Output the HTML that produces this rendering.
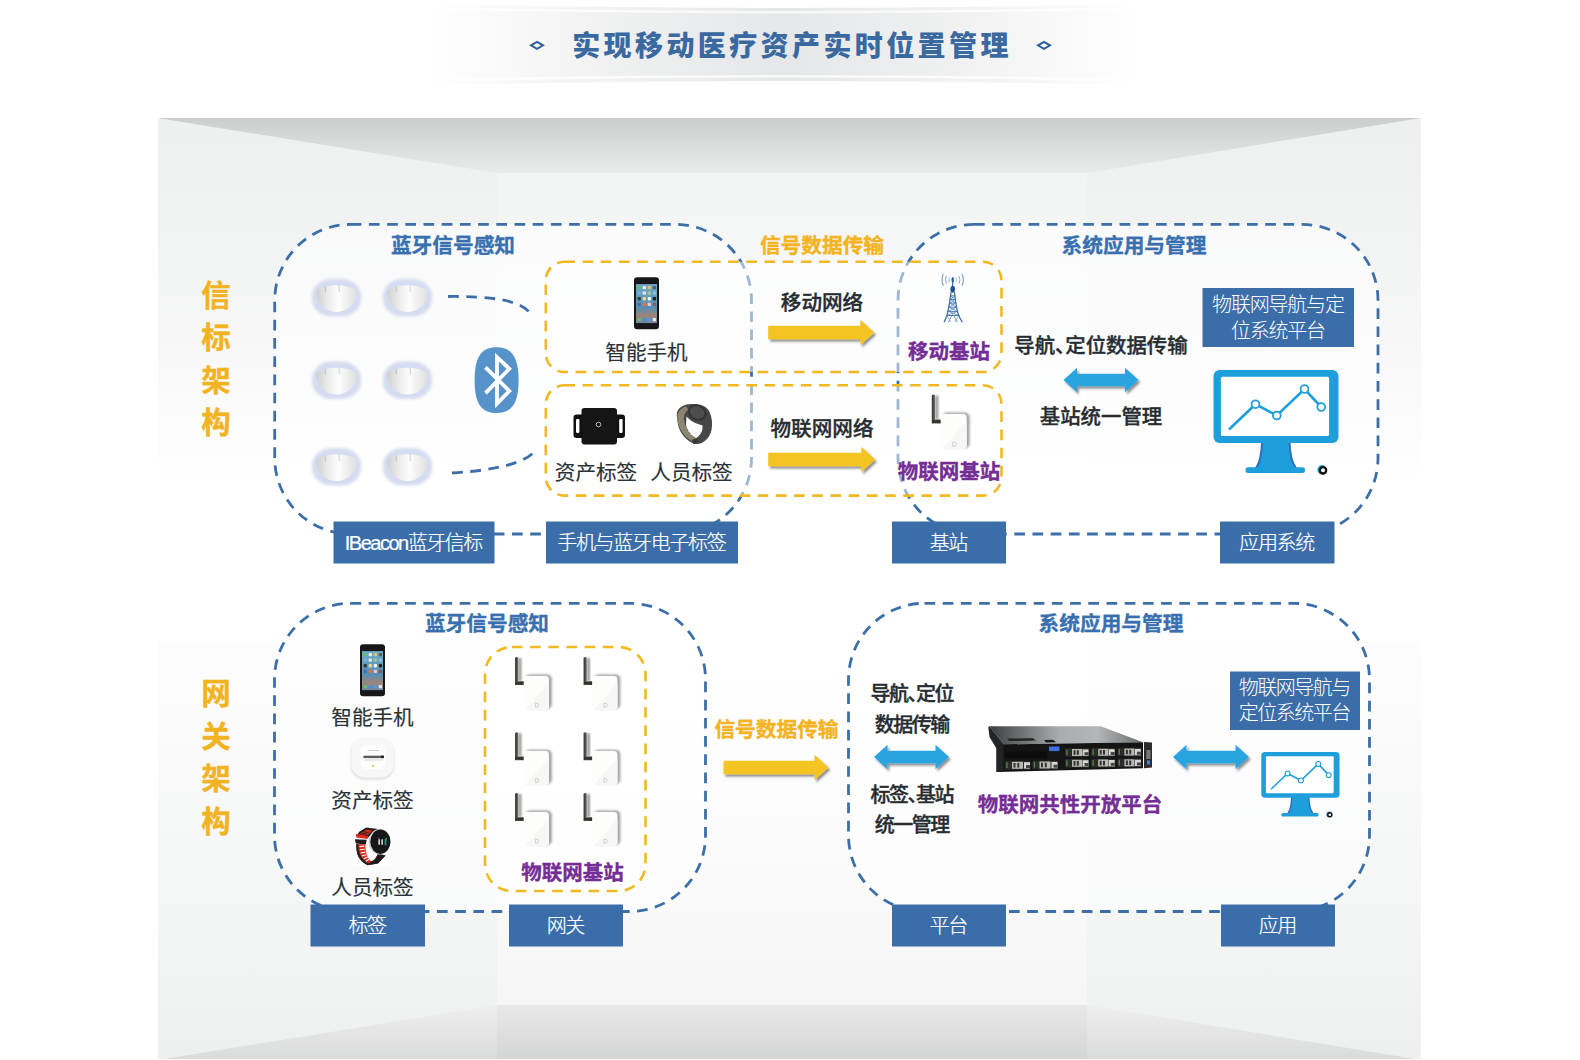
<!DOCTYPE html>
<html lang="zh-CN"><head><meta charset="utf-8"><title>实现移动医疗资产实时位置管理</title>
<style>
html,body{margin:0;padding:0;background:#fff;}
body{width:1580px;height:1060px;overflow:hidden;}
svg{display:block}
.t{font-family:"Liberation Sans","Noto Sans CJK SC",sans-serif;}
</style></head><body>
<svg width="1580" height="1060" viewBox="0 0 1580 1060">

<defs>
<linearGradient id="gCeil" x1="0" y1="0" x2="0" y2="1"><stop offset="0" stop-color="#cccdcd"/><stop offset="1" stop-color="#e9eaea"/></linearGradient>
<linearGradient id="gFloor" x1="0" y1="0" x2="0" y2="1"><stop offset="0" stop-color="#eeeeee"/><stop offset="1" stop-color="#dadbdb"/></linearGradient>
<linearGradient id="gSide" gradientUnits="userSpaceOnUse" x1="0" y1="118" x2="0" y2="1060">
 <stop offset="0" stop-color="#eeefef"/><stop offset="0.15" stop-color="#f2f3f3"/><stop offset="0.3" stop-color="#fafafa"/><stop offset="0.385" stop-color="#ffffff"/><stop offset="0.555" stop-color="#ffffff"/><stop offset="0.556" stop-color="#fdfdfd"/><stop offset="0.8" stop-color="#f5f6f6"/><stop offset="1" stop-color="#eeefef"/></linearGradient>
<linearGradient id="gBack" gradientUnits="userSpaceOnUse" x1="0" y1="173" x2="0" y2="1005">
 <stop offset="0" stop-color="#f2f3f3"/><stop offset="0.25" stop-color="#fbfcfc"/><stop offset="0.4" stop-color="#ffffff"/><stop offset="0.6" stop-color="#ffffff"/><stop offset="1" stop-color="#f6f6f6"/></linearGradient>
<linearGradient id="gBand" x1="0" y1="0" x2="1" y2="0"><stop offset="0" stop-color="#e9eaeb" stop-opacity="0"/><stop offset="0.3" stop-color="#e9eaeb" stop-opacity="0.8"/><stop offset="0.5" stop-color="#e6e7e8" stop-opacity="1"/><stop offset="0.7" stop-color="#e9eaeb" stop-opacity="0.8"/><stop offset="1" stop-color="#e9eaeb" stop-opacity="0"/></linearGradient>
<linearGradient id="gDome" x1="0" y1="0" x2="1" y2="0"><stop offset="0" stop-color="#cfcfcf"/><stop offset="0.3" stop-color="#ececec"/><stop offset="0.55" stop-color="#fdfdfd"/><stop offset="1" stop-color="#dedede"/></linearGradient>
<filter id="blurH" x="-30%" y="-30%" width="160%" height="160%"><feGaussianBlur stdDeviation="1.6"/></filter>
<filter id="blur3" x="-30%" y="-30%" width="160%" height="160%"><feGaussianBlur stdDeviation="2.2"/></filter>
<filter id="blur1" x="-30%" y="-30%" width="160%" height="160%"><feGaussianBlur stdDeviation="1"/></filter>
<filter id="shadow" x="-10%" y="-30%" width="120%" height="180%"><feDropShadow dx="1.8" dy="2.3" stdDeviation="1.1" flood-color="#000" flood-opacity="0.45"/></filter>
<linearGradient id="gScreen" x1="0" y1="0" x2="0" y2="1"><stop offset="0" stop-color="#6faac8"/><stop offset="0.6" stop-color="#5590b4"/><stop offset="0.82" stop-color="#a08478"/><stop offset="1" stop-color="#6f86a6"/></linearGradient>
<linearGradient id="gAnt" x1="0" y1="0" x2="1" y2="0"><stop offset="0" stop-color="#2f2f2b"/><stop offset="0.35" stop-color="#6e6e66"/><stop offset="0.7" stop-color="#4a4a44"/><stop offset="1" stop-color="#33332e"/></linearGradient>
<linearGradient id="gSrvTop" x1="0" y1="0" x2="1" y2="0"><stop offset="0" stop-color="#3c3e40"/><stop offset="0.45" stop-color="#a9abad"/><stop offset="0.7" stop-color="#b4b6b8"/><stop offset="1" stop-color="#6a6c6e"/></linearGradient>
</defs>

<rect x="158" y="118" width="339" height="942" fill="url(#gSide)"/>
<rect x="1087" y="118" width="334" height="942" fill="url(#gSide)"/>
<rect x="497" y="118" width="590" height="942" fill="url(#gBack)"/>
<polygon points="158,118 1421,118 1087,173 497,173" fill="url(#gCeil)"/>
<polygon points="158,1060 497,1005 1087,1005 1421,1060" fill="url(#gFloor)"/>
<rect x="497" y="1005" width="590" height="55" fill="#000" opacity="0.025"/>
<rect x="0" y="1059" width="1580" height="1" fill="#fff"/>
<path d="M430,4 Q790,12 1135,4 L1135,85 Q790,77 430,85 Z" fill="url(#gBand)"/>
<path d="M440,8.5 Q790,16 1125,8.5" fill="none" stroke="#fff" stroke-width="2.6" opacity="0.75"/><path d="M440,80 Q790,72.5 1125,80" fill="none" stroke="#fff" stroke-width="2.6" opacity="0.75"/>
<text x="792" y="55.5" font-size="28" font-weight="900" fill="#3a699f" text-anchor="middle" letter-spacing="3.4" class="t">实现移动医疗资产实时位置管理</text>
<polygon points="531,45.3 537,41.8 543,45.3 537,48.8" fill="none" stroke="#2f5f9a" stroke-width="2"/>
<polygon points="1038,45.3 1044,41.8 1050,45.3 1044,48.8" fill="none" stroke="#2f5f9a" stroke-width="2"/>
<rect x="274.7" y="224.4" width="476.8" height="309.6" rx="76" ry="76" fill="rgba(255,255,255,0.55)" stroke="#3c6fa9" stroke-width="2.8" stroke-dasharray="10.7 7.5" />
<rect x="898" y="224.4" width="480" height="309.6" rx="76" ry="76" fill="rgba(255,255,255,0.55)" stroke="#3c6fa9" stroke-width="2.8" stroke-dasharray="10.7 7.5" />
<rect x="274.5" y="603.3" width="431.0" height="308.20000000000005" rx="76" ry="76" fill="rgba(255,255,255,0.55)" stroke="#3c6fa9" stroke-width="2.8" stroke-dasharray="10.7 7.5" />
<rect x="848.5" y="603.3" width="521.0" height="308.20000000000005" rx="76" ry="76" fill="rgba(255,255,255,0.55)" stroke="#3c6fa9" stroke-width="2.8" stroke-dasharray="10.7 7.5" />
<rect x="545.8" y="261.8" width="455.70000000000005" height="110.19999999999999" rx="18.5" ry="18.5" fill="rgba(255,255,255,0.5)" stroke="#f2b822" stroke-width="2.6" stroke-dasharray="10.7 7.5" />
<rect x="545.8" y="385.3" width="455.70000000000005" height="110.30000000000001" rx="18.5" ry="18.5" fill="rgba(255,255,255,0.5)" stroke="#f2b822" stroke-width="2.6" stroke-dasharray="10.7 7.5" />
<rect x="485" y="647" width="160.5" height="244" rx="26.8" ry="26.8" fill="rgba(255,255,255,0.5)" stroke="#f2b822" stroke-width="2.6" stroke-dasharray="10.7 7.5" />
<path d="M448,296.5 C490,296 520,300 530,313" fill="none" stroke="#3c6fa9" stroke-width="2.8" stroke-dasharray="10.7 7.5"/>
<path d="M452,473 C500,470 525,462 534,452" fill="none" stroke="#3c6fa9" stroke-width="2.8" stroke-dasharray="10.7 7.5"/>
<rect x="333.5" y="521.5" width="161.0" height="42.0" fill="#3b6ea8"/>
<text x="413.25" y="550.3" font-size="20" font-weight="300" fill="#fff" stroke="#fff" stroke-width="0.2" text-anchor="middle" letter-spacing="-1.5" class="t">IBeacon蓝牙信标</text>
<rect x="546" y="521.5" width="192" height="42.0" fill="#3b6ea8"/>
<text x="641.35" y="550.3" font-size="20" font-weight="300" fill="#fff" stroke="#fff" stroke-width="0.2" text-anchor="middle" letter-spacing="-1.3" class="t">手机与蓝牙电子标签</text>
<rect x="892" y="521.5" width="114" height="42.0" fill="#3b6ea8"/>
<text x="948.35" y="550.3" font-size="20" font-weight="300" fill="#fff" stroke="#fff" stroke-width="0.2" text-anchor="middle" letter-spacing="-1.3" class="t">基站</text>
<rect x="1220" y="521.5" width="114.5" height="42.0" fill="#3b6ea8"/>
<text x="1276.6" y="550.3" font-size="20" font-weight="300" fill="#fff" stroke="#fff" stroke-width="0.2" text-anchor="middle" letter-spacing="-1.3" class="t">应用系统</text>
<rect x="310.5" y="904.5" width="114.5" height="42.0" fill="#3b6ea8"/>
<text x="367.1" y="933.3" font-size="20" font-weight="300" fill="#fff" stroke="#fff" stroke-width="0.2" text-anchor="middle" letter-spacing="-1.3" class="t">标签</text>
<rect x="509" y="904.5" width="114" height="42.0" fill="#3b6ea8"/>
<text x="565.35" y="933.3" font-size="20" font-weight="300" fill="#fff" stroke="#fff" stroke-width="0.2" text-anchor="middle" letter-spacing="-1.3" class="t">网关</text>
<rect x="892" y="904.5" width="114" height="42.0" fill="#3b6ea8"/>
<text x="948.35" y="933.3" font-size="20" font-weight="300" fill="#fff" stroke="#fff" stroke-width="0.2" text-anchor="middle" letter-spacing="-1.3" class="t">平台</text>
<rect x="1221" y="904.5" width="114" height="42.0" fill="#3b6ea8"/>
<text x="1277.35" y="933.3" font-size="20" font-weight="300" fill="#fff" stroke="#fff" stroke-width="0.2" text-anchor="middle" letter-spacing="-1.3" class="t">应用</text>
<text x="216.0" y="305.6" font-size="29.5" font-weight="700" fill="#f2b323" stroke="#f2b323" stroke-width="0.35" text-anchor="middle" letter-spacing="0" class="t">信</text>
<text x="216.0" y="348.1" font-size="29.5" font-weight="700" fill="#f2b323" stroke="#f2b323" stroke-width="0.35" text-anchor="middle" letter-spacing="0" class="t">标</text>
<text x="216.0" y="390.6" font-size="29.5" font-weight="700" fill="#f2b323" stroke="#f2b323" stroke-width="0.35" text-anchor="middle" letter-spacing="0" class="t">架</text>
<text x="216.0" y="433.1" font-size="29.5" font-weight="700" fill="#f2b323" stroke="#f2b323" stroke-width="0.35" text-anchor="middle" letter-spacing="0" class="t">构</text>
<text x="216.0" y="704.3" font-size="29.5" font-weight="700" fill="#f2b323" stroke="#f2b323" stroke-width="0.35" text-anchor="middle" letter-spacing="0" class="t">网</text>
<text x="216.0" y="746.8" font-size="29.5" font-weight="700" fill="#f2b323" stroke="#f2b323" stroke-width="0.35" text-anchor="middle" letter-spacing="0" class="t">关</text>
<text x="216.0" y="789.3" font-size="29.5" font-weight="700" fill="#f2b323" stroke="#f2b323" stroke-width="0.35" text-anchor="middle" letter-spacing="0" class="t">架</text>
<text x="216.0" y="831.8" font-size="29.5" font-weight="700" fill="#f2b323" stroke="#f2b323" stroke-width="0.35" text-anchor="middle" letter-spacing="0" class="t">构</text>
<text x="453.0" y="252.5" font-size="20.7" font-weight="700" fill="#3870af" stroke="#3870af" stroke-width="0.35" text-anchor="middle" letter-spacing="0" class="t">蓝牙信号感知</text>
<text x="822.0" y="252.5" font-size="20.7" font-weight="700" fill="#f3b323" stroke="#f3b323" stroke-width="0.35" text-anchor="middle" letter-spacing="0" class="t">信号数据传输</text>
<text x="1134.0" y="252.5" font-size="20.7" font-weight="700" fill="#3870af" stroke="#3870af" stroke-width="0.35" text-anchor="middle" letter-spacing="0" class="t">系统应用与管理</text>
<text x="487.0" y="631.0" font-size="20.7" font-weight="700" fill="#3870af" stroke="#3870af" stroke-width="0.35" text-anchor="middle" letter-spacing="0" class="t">蓝牙信号感知</text>
<text x="1111.0" y="631.3" font-size="20.7" font-weight="700" fill="#3870af" stroke="#3870af" stroke-width="0.35" text-anchor="middle" letter-spacing="0" class="t">系统应用与管理</text>
<text x="776.5" y="736.8" font-size="20.7" font-weight="700" fill="#f3b323" stroke="#f3b323" stroke-width="0.35" text-anchor="middle" letter-spacing="0" class="t">信号数据传输</text>
<text x="646.5" y="359.7" font-size="20.6" font-weight="400" fill="#2a3136" stroke="#2a3136" stroke-width="0.15" text-anchor="middle" letter-spacing="0" class="t">智能手机</text>
<text x="596.0" y="479.8" font-size="20.6" font-weight="400" fill="#2a3136" stroke="#2a3136" stroke-width="0.15" text-anchor="middle" letter-spacing="0" class="t">资产标签</text>
<text x="691.5" y="479.8" font-size="20.6" font-weight="400" fill="#2a3136" stroke="#2a3136" stroke-width="0.15" text-anchor="middle" letter-spacing="0" class="t">人员标签</text>
<text x="822.0" y="309.9" font-size="20.6" font-weight="500" fill="#262c30" stroke="#262c30" stroke-width="0.35" text-anchor="middle" letter-spacing="0" class="t">移动网络</text>
<text x="822.0" y="435.9" font-size="20.6" font-weight="500" fill="#262c30" stroke="#262c30" stroke-width="0.35" text-anchor="middle" letter-spacing="0" class="t">物联网网络</text>
<text x="949.0" y="359.4" font-size="20.5" font-weight="700" fill="#752d96" stroke="#752d96" stroke-width="0.35" text-anchor="middle" letter-spacing="0" class="t">移动基站</text>
<text x="949.0" y="478.9" font-size="20.5" font-weight="700" fill="#752d96" stroke="#752d96" stroke-width="0.35" text-anchor="middle" letter-spacing="0" class="t">物联网基站</text>
<text x="1101.0" y="353.3" font-size="20.4" font-weight="500" fill="#262c30" stroke="#262c30" stroke-width="0.35" text-anchor="middle" letter-spacing="0" class="t">导航<tspan style="font-feature-settings:'halt'">、</tspan>定位数据传输</text>
<text x="1101.0" y="423.8" font-size="20.4" font-weight="500" fill="#262c30" stroke="#262c30" stroke-width="0.35" text-anchor="middle" letter-spacing="0" class="t">基站统一管理</text>
<text x="372.5" y="724.7" font-size="20.6" font-weight="400" fill="#2a3136" stroke="#2a3136" stroke-width="0.15" text-anchor="middle" letter-spacing="0" class="t">智能手机</text>
<text x="372.5" y="807.7" font-size="20.6" font-weight="400" fill="#2a3136" stroke="#2a3136" stroke-width="0.15" text-anchor="middle" letter-spacing="0" class="t">资产标签</text>
<text x="372.5" y="894.7" font-size="20.6" font-weight="400" fill="#2a3136" stroke="#2a3136" stroke-width="0.15" text-anchor="middle" letter-spacing="0" class="t">人员标签</text>
<text x="572.5" y="880.4" font-size="20.5" font-weight="700" fill="#752d96" stroke="#752d96" stroke-width="0.35" text-anchor="middle" letter-spacing="0" class="t">物联网基站</text>
<text x="911.75" y="701.2" font-size="20" font-weight="500" fill="#262c30" stroke="#262c30" stroke-width="0.35" text-anchor="middle" letter-spacing="-1.5" class="t">导航<tspan style="font-feature-settings:'halt'">、</tspan>定位</text>
<text x="911.75" y="732.2" font-size="20" font-weight="500" fill="#262c30" stroke="#262c30" stroke-width="0.35" text-anchor="middle" letter-spacing="-1.5" class="t">数据传输</text>
<text x="911.75" y="801.7" font-size="20" font-weight="500" fill="#262c30" stroke="#262c30" stroke-width="0.35" text-anchor="middle" letter-spacing="-1.5" class="t">标签<tspan style="font-feature-settings:'halt'">、</tspan>基站</text>
<text x="911.75" y="831.7" font-size="20" font-weight="500" fill="#262c30" stroke="#262c30" stroke-width="0.35" text-anchor="middle" letter-spacing="-1.5" class="t">统一管理</text>
<text x="1070.0" y="812.4" font-size="20.5" font-weight="700" fill="#752d96" stroke="#752d96" stroke-width="0.35" text-anchor="middle" letter-spacing="0" class="t">物联网共性开放平台</text>
<rect x="1202.5" y="288" width="151.5" height="59" fill="#3b6ea8"/>
<text x="1277.9" y="312.2" font-size="20" font-weight="300" fill="#fff" text-anchor="middle" letter-spacing="-1.2" class="t">物联网导航与定</text>
<text x="1277.9" y="337.7" font-size="20" font-weight="300" fill="#fff" text-anchor="middle" letter-spacing="-1.2" class="t">位系统平台</text>
<rect x="1230" y="671.5" width="130" height="58.5" fill="#3b6ea8"/>
<text x="1294.25" y="695.2" font-size="20" font-weight="300" fill="#fff" text-anchor="middle" letter-spacing="-1.5" class="t">物联网导航与</text>
<text x="1294.25" y="720.2" font-size="20" font-weight="300" fill="#fff" text-anchor="middle" letter-spacing="-1.5" class="t">定位系统平台</text>
<polygon points="768.2,325.85 860.3,325.85 860.3,319.85 874.3,332.6 860.3,345.35 860.3,339.35 768.2,339.35" fill="#f4c422" filter="url(#shadow)"/>
<polygon points="768.2,452.85 861.3,452.85 861.3,446.85 875.3,459.6 861.3,472.35 861.3,466.35 768.2,466.35" fill="#f4c422" filter="url(#shadow)"/>
<polygon points="723.5,760.75 814.5,760.75 814.5,754.75 828.5,767.5 814.5,780.25 814.5,774.25 723.5,774.25" fill="#f4c422" filter="url(#shadow)"/>
<polygon points="1063.5,380 1077.0,367.75 1077.0,373.75 1125.0,373.75 1125.0,367.75 1138.5,380 1125.0,392.25 1125.0,386.25 1077.0,386.25 1077.0,392.25" fill="#2ba4df" filter="url(#shadow)"/>
<polygon points="874,757 887.5,744.75 887.5,750.75 935.5,750.75 935.5,744.75 949,757 935.5,769.25 935.5,763.25 887.5,763.25 887.5,769.25" fill="#2ba4df" filter="url(#shadow)"/>
<polygon points="1173,757 1186.5,744.75 1186.5,750.75 1235.5,750.75 1235.5,744.75 1249,757 1235.5,769.25 1235.5,763.25 1186.5,763.25 1186.5,769.25" fill="#2ba4df" filter="url(#shadow)"/>
<rect x="312.0" y="279" width="49" height="37.5" rx="20" ry="17" fill="#d5dbf0" filter="url(#blurH)"/>
<path d="M316.0,292 C320.0,283.0 353.0,283.0 357.0,292 C356.0,305 346.5,312 336.5,312 C326.5,312 317.0,305 316.0,292 Z" fill="url(#gDome)"/>
<path d="M325.0,286.5 L325.5,292" stroke="#b8b8b8" stroke-width="0.8" fill="none"/>
<path d="M339.0,285 L339.3,292" stroke="#c4c4c4" stroke-width="0.8" fill="none"/>
<rect x="383.0" y="279" width="49" height="37.5" rx="20" ry="17" fill="#d5dbf0" filter="url(#blurH)"/>
<path d="M387.0,292 C391.0,283.0 424.0,283.0 428.0,292 C427.0,305 417.5,312 407.5,312 C397.5,312 388.0,305 387.0,292 Z" fill="url(#gDome)"/>
<path d="M396.0,286.5 L396.5,292" stroke="#b8b8b8" stroke-width="0.8" fill="none"/>
<path d="M410.0,285 L410.3,292" stroke="#c4c4c4" stroke-width="0.8" fill="none"/>
<rect x="312.0" y="361.5" width="49" height="37.5" rx="20" ry="17" fill="#d5dbf0" filter="url(#blurH)"/>
<path d="M316.0,374.5 C320.0,365.5 353.0,365.5 357.0,374.5 C356.0,387.5 346.5,394.5 336.5,394.5 C326.5,394.5 317.0,387.5 316.0,374.5 Z" fill="url(#gDome)"/>
<path d="M325.0,369.0 L325.5,374.5" stroke="#b8b8b8" stroke-width="0.8" fill="none"/>
<path d="M339.0,367.5 L339.3,374.5" stroke="#c4c4c4" stroke-width="0.8" fill="none"/>
<rect x="383.0" y="361.5" width="49" height="37.5" rx="20" ry="17" fill="#d5dbf0" filter="url(#blurH)"/>
<path d="M387.0,374.5 C391.0,365.5 424.0,365.5 428.0,374.5 C427.0,387.5 417.5,394.5 407.5,394.5 C397.5,394.5 388.0,387.5 387.0,374.5 Z" fill="url(#gDome)"/>
<path d="M396.0,369.0 L396.5,374.5" stroke="#b8b8b8" stroke-width="0.8" fill="none"/>
<path d="M410.0,367.5 L410.3,374.5" stroke="#c4c4c4" stroke-width="0.8" fill="none"/>
<rect x="312.0" y="448" width="49" height="37.5" rx="20" ry="17" fill="#d5dbf0" filter="url(#blurH)"/>
<path d="M316.0,461 C320.0,452.0 353.0,452.0 357.0,461 C356.0,474 346.5,481 336.5,481 C326.5,481 317.0,474 316.0,461 Z" fill="url(#gDome)"/>
<path d="M325.0,455.5 L325.5,461" stroke="#b8b8b8" stroke-width="0.8" fill="none"/>
<path d="M339.0,454 L339.3,461" stroke="#c4c4c4" stroke-width="0.8" fill="none"/>
<rect x="383.0" y="448" width="49" height="37.5" rx="20" ry="17" fill="#d5dbf0" filter="url(#blurH)"/>
<path d="M387.0,461 C391.0,452.0 424.0,452.0 428.0,461 C427.0,474 417.5,481 407.5,481 C397.5,481 388.0,474 387.0,461 Z" fill="url(#gDome)"/>
<path d="M396.0,455.5 L396.5,461" stroke="#b8b8b8" stroke-width="0.8" fill="none"/>
<path d="M410.0,454 L410.3,461" stroke="#c4c4c4" stroke-width="0.8" fill="none"/>
<path d="M496.6,347.3 C511,347.3 518.6,356 518.6,380.2 C518.6,404.5 511,413 496.6,413 C482,413 474.6,404.5 474.6,380.2 C474.6,356 482,347.3 496.6,347.3 Z" fill="#5693ca"/>
<path d="M485.5,367.3 L509.3,391 L497,403.6 L497,357.2 L509.3,368.8 L485.5,393.2" fill="none" stroke="#fff" stroke-width="3.8" stroke-linejoin="miter"/>
<rect x="634" y="277.3" width="25" height="52" rx="3.2" fill="#17171a"/>
<rect x="636" y="284.1" width="21" height="39" fill="url(#gScreen)"/>
<rect x="637.60" y="285.90" width="3.3" height="3.3" rx="0.8" fill="#5ec26a"/>
<rect x="642.65" y="285.90" width="3.3" height="3.3" rx="0.8" fill="#e9e9ee"/>
<rect x="647.70" y="285.90" width="3.3" height="3.3" rx="0.8" fill="#d9c27a"/>
<rect x="652.75" y="285.90" width="3.3" height="3.3" rx="0.8" fill="#55606a"/>
<rect x="637.60" y="291.50" width="3.3" height="3.3" rx="0.8" fill="#6fb3e8"/>
<rect x="642.65" y="291.50" width="3.3" height="3.3" rx="0.8" fill="#e6e6e6"/>
<rect x="647.70" y="291.50" width="3.3" height="3.3" rx="0.8" fill="#9fc9a0"/>
<rect x="652.75" y="291.50" width="3.3" height="3.3" rx="0.8" fill="#7cc3e0"/>
<rect x="637.60" y="297.10" width="3.3" height="3.3" rx="0.8" fill="#3a3a3a"/>
<rect x="642.65" y="297.10" width="3.3" height="3.3" rx="0.8" fill="#f0d98a"/>
<rect x="647.70" y="297.10" width="3.3" height="3.3" rx="0.8" fill="#f4f4f4"/>
<rect x="652.75" y="297.10" width="3.3" height="3.3" rx="0.8" fill="#222"/>
<rect x="637.60" y="302.70" width="3.3" height="3.3" rx="0.8" fill="#4a6fb0"/>
<rect x="642.65" y="302.70" width="3.3" height="3.3" rx="0.8" fill="#e8742c"/>
<rect x="647.70" y="302.70" width="3.3" height="3.3" rx="0.8" fill="#f2c4cc"/>
<rect x="652.75" y="302.70" width="3.3" height="3.3" rx="0.8" fill="#8a5a5a"/>
<rect x="637.60" y="317.90" width="3.3" height="3.3" rx="0.8" fill="#5ec26a"/>
<rect x="642.65" y="317.90" width="3.3" height="3.3" rx="0.8" fill="#4a90d9"/>
<rect x="647.70" y="317.90" width="3.3" height="3.3" rx="0.8" fill="#4a9de0"/>
<rect x="652.75" y="317.90" width="3.3" height="3.3" rx="0.8" fill="#f0e6ea"/>
<rect x="360" y="644.3" width="25" height="52" rx="3.2" fill="#17171a"/>
<rect x="362" y="651.0999999999999" width="21" height="39" fill="url(#gScreen)"/>
<rect x="363.60" y="652.90" width="3.3" height="3.3" rx="0.8" fill="#5ec26a"/>
<rect x="368.65" y="652.90" width="3.3" height="3.3" rx="0.8" fill="#e9e9ee"/>
<rect x="373.70" y="652.90" width="3.3" height="3.3" rx="0.8" fill="#d9c27a"/>
<rect x="378.75" y="652.90" width="3.3" height="3.3" rx="0.8" fill="#55606a"/>
<rect x="363.60" y="658.50" width="3.3" height="3.3" rx="0.8" fill="#6fb3e8"/>
<rect x="368.65" y="658.50" width="3.3" height="3.3" rx="0.8" fill="#e6e6e6"/>
<rect x="373.70" y="658.50" width="3.3" height="3.3" rx="0.8" fill="#9fc9a0"/>
<rect x="378.75" y="658.50" width="3.3" height="3.3" rx="0.8" fill="#7cc3e0"/>
<rect x="363.60" y="664.10" width="3.3" height="3.3" rx="0.8" fill="#3a3a3a"/>
<rect x="368.65" y="664.10" width="3.3" height="3.3" rx="0.8" fill="#f0d98a"/>
<rect x="373.70" y="664.10" width="3.3" height="3.3" rx="0.8" fill="#f4f4f4"/>
<rect x="378.75" y="664.10" width="3.3" height="3.3" rx="0.8" fill="#222"/>
<rect x="363.60" y="669.70" width="3.3" height="3.3" rx="0.8" fill="#4a6fb0"/>
<rect x="368.65" y="669.70" width="3.3" height="3.3" rx="0.8" fill="#e8742c"/>
<rect x="373.70" y="669.70" width="3.3" height="3.3" rx="0.8" fill="#f2c4cc"/>
<rect x="378.75" y="669.70" width="3.3" height="3.3" rx="0.8" fill="#8a5a5a"/>
<rect x="363.60" y="684.90" width="3.3" height="3.3" rx="0.8" fill="#5ec26a"/>
<rect x="368.65" y="684.90" width="3.3" height="3.3" rx="0.8" fill="#4a90d9"/>
<rect x="373.70" y="684.90" width="3.3" height="3.3" rx="0.8" fill="#4a9de0"/>
<rect x="378.75" y="684.90" width="3.3" height="3.3" rx="0.8" fill="#f0e6ea"/>
<g><rect x="573.5" y="414.5" width="51.5" height="23.5" rx="3" fill="#111"/><rect x="581.5" y="408" width="35.5" height="36.5" rx="3" fill="#151515"/><rect x="576" y="419" width="3.4" height="14" rx="1.2" fill="#fff"/><rect x="619.2" y="419" width="3.4" height="14" rx="1.2" fill="#fff"/><circle cx="598.5" cy="424.5" r="2.3" fill="none" stroke="#ddd" stroke-width="0.8"/></g>
<g><path d="M676.8,416 C676,408 684,403.6 692.4,404 C700,403.6 707,406 709.6,412 C712.2,418 712.6,424 711.5,430 C710,438 703,445 695,444 C688,442 680,434 678,425 Z" fill="#474747"/><path d="M686.5,416.5 C690,421 697,424.2 702.3,425.2 C703.3,430 701,435 696,438.3 C691.5,436 687.5,431 686,425 Z" fill="#fdfdfd"/><path d="M677.3,416 C678,411.5 681.5,408 686,406.3 L688.3,410 C684.5,412 683.3,416 684.2,421 C685.5,428 690,434.5 696.3,438.3 L694.3,442.3 C686,439 679,430 677.5,421 Z" fill="#8d856f"/><path d="M686.6,428 l1.5,-0.5 M688.3,431.5 l1.5,-0.6 M690.4,434.6 l1.5,-0.8" stroke="#e8e8e8" stroke-width="1" fill="none"/><rect x="692.5" y="438.8" width="6" height="4.6" transform="rotate(-18 695.5 441)" fill="#3a3a3a"/><ellipse cx="697.4" cy="412.8" rx="9.6" ry="7.7" transform="rotate(24 697.4 412.8)" fill="#353535"/><ellipse cx="697.2" cy="412.4" rx="7.6" ry="5.9" transform="rotate(24 697.2 412.4)" fill="#4d4d4d"/></g>
<g stroke="#3a6ca6" fill="none" stroke-linecap="round"><path d="M950.9,292.6 C950.3,299 949.3,306 947.6,312.9 C946.7,316.5 945.5,319.5 944.3,321.8" stroke-width="1.25"/><path d="M954.5,292.6 C955.1,299 956.1,306 957.8,312.9 C958.7,316.5 960.6,319.5 962.2,321.8" stroke-width="1.25"/><path d="M948.8,321.8 C950,318.5 951.3,316 952.7,314.6 C954.1,316 955.6,318.5 956.9,321.8" stroke-width="0.9" stroke="#5f88b8"/><path d="M950.6,295.8 L954.8,295.8" stroke-width="0.9"/><path d="M950.2,299.4 L955.2,299.4" stroke-width="0.9"/><path d="M949.7,303.1 L955.8,303.1" stroke-width="0.9"/><path d="M949,307.2 L956.5,307.2" stroke-width="0.9"/><path d="M948,311.4 L957.5,311.4" stroke-width="0.9"/><path d="M946.8,315.5 L959,315.5" stroke-width="0.9"/><path d="M950.6,295.8 L955.2,299.4 M954.8,295.8 L950.2,299.4" stroke-width="0.7" stroke="#4a78ae"/><path d="M950.2,299.4 L955.8,303.1 M955.2,299.4 L949.7,303.1" stroke-width="0.7" stroke="#4a78ae"/><path d="M949.7,303.1 L956.5,307.2 M955.8,303.1 L949,307.2" stroke-width="0.7" stroke="#4a78ae"/><path d="M949,307.2 L957.5,311.4 M956.5,307.2 L948,311.4" stroke-width="0.7" stroke="#4a78ae"/><path d="M948,311.4 L959,315.5 M957.5,311.4 L946.8,315.5" stroke-width="0.7" stroke="#4a78ae"/><path d="M946.8,315.5 L950.5,321.5 M959,315.5 L955.2,321.5" stroke-width="0.7" stroke="#6a90bc"/><ellipse cx="952.7" cy="279.8" rx="1.25" ry="2.8" fill="#2a5fa3" stroke="none"/><path d="M952.7,282 L952.7,286.5" stroke-width="1.1" stroke="#2a5fa3"/><ellipse cx="952.7" cy="289.3" rx="2.3" ry="3.5" fill="#1f5094" stroke="none"/><path d="M949.3,277.5 Q948.3,279.8 949.3,282.1" stroke-width="0.9" opacity="0.5"/><path d="M946.2,276.2 Q944.6,279.8 946.2,283.4" stroke-width="1" opacity="0.6"/><path d="M943.2,274.4 Q940.9,279.8 943.2,285.2" stroke-width="1.1" opacity="0.7"/><path d="M956.1,277.5 Q957.1,279.8 956.1,282.1" stroke-width="0.9" opacity="0.4"/><path d="M959.2,276.2 Q960.8,279.8 959.2,283.4" stroke-width="1" opacity="0.55"/><path d="M962.2,274.4 Q964.5,279.8 962.2,285.2" stroke-width="1.1" opacity="0.7"/></g>
<g transform="translate(931.3,393.8) scale(1.0)"><rect x="4" y="1.8" width="3" height="24" fill="#8a8787" opacity="0.9" filter="url(#blur1)"/><rect x="11.4" y="18.8" width="27" height="35.4" rx="4.5" fill="#8a8686" opacity="0.75" filter="url(#blur1)"/><path d="M0.5,1.6 Q2.1,-0.2 3.7,1.6 L3.7,25.8 L9.6,25.8 L9.6,29.7 L0.5,29.7 Z" fill="url(#gAnt)"/><rect x="1.0" y="26.4" width="8.4" height="2.6" fill="#33332e"/><rect x="9.4" y="20.2" width="26" height="34.9" rx="3.6" fill="#fdfdfc"/><path d="M35.4,27.5 L35.4,51.5 Q35.4,55.1 31.8,55.1 L11,55.1 Z" fill="#f7f7f6"/><path d="M21.4,48.4 L21.4,52.4 L22.8,52.4 Q24.8,52.4 24.8,50.4 Q24.8,48.4 22.8,48.4 Z" fill="none" stroke="#c4c4c8" stroke-width="0.8"/></g>
<g transform="translate(514.6,656.3) scale(0.97)"><rect x="4" y="1.8" width="3" height="24" fill="#8a8787" opacity="0.9" filter="url(#blur1)"/><rect x="11.4" y="18.8" width="27" height="35.4" rx="4.5" fill="#8a8686" opacity="0.75" filter="url(#blur1)"/><path d="M0.5,1.6 Q2.1,-0.2 3.7,1.6 L3.7,25.8 L9.6,25.8 L9.6,29.7 L0.5,29.7 Z" fill="url(#gAnt)"/><rect x="1.0" y="26.4" width="8.4" height="2.6" fill="#33332e"/><rect x="9.4" y="20.2" width="26" height="34.9" rx="3.6" fill="#fdfdfc"/><path d="M35.4,27.5 L35.4,51.5 Q35.4,55.1 31.8,55.1 L11,55.1 Z" fill="#f7f7f6"/><path d="M21.4,48.4 L21.4,52.4 L22.8,52.4 Q24.8,52.4 24.8,50.4 Q24.8,48.4 22.8,48.4 Z" fill="none" stroke="#c4c4c8" stroke-width="0.8"/></g>
<g transform="translate(583.1,656.3) scale(0.97)"><rect x="4" y="1.8" width="3" height="24" fill="#8a8787" opacity="0.9" filter="url(#blur1)"/><rect x="11.4" y="18.8" width="27" height="35.4" rx="4.5" fill="#8a8686" opacity="0.75" filter="url(#blur1)"/><path d="M0.5,1.6 Q2.1,-0.2 3.7,1.6 L3.7,25.8 L9.6,25.8 L9.6,29.7 L0.5,29.7 Z" fill="url(#gAnt)"/><rect x="1.0" y="26.4" width="8.4" height="2.6" fill="#33332e"/><rect x="9.4" y="20.2" width="26" height="34.9" rx="3.6" fill="#fdfdfc"/><path d="M35.4,27.5 L35.4,51.5 Q35.4,55.1 31.8,55.1 L11,55.1 Z" fill="#f7f7f6"/><path d="M21.4,48.4 L21.4,52.4 L22.8,52.4 Q24.8,52.4 24.8,50.4 Q24.8,48.4 22.8,48.4 Z" fill="none" stroke="#c4c4c8" stroke-width="0.8"/></g>
<g transform="translate(514.6,731.5) scale(0.97)"><rect x="4" y="1.8" width="3" height="24" fill="#8a8787" opacity="0.9" filter="url(#blur1)"/><rect x="11.4" y="18.8" width="27" height="35.4" rx="4.5" fill="#8a8686" opacity="0.75" filter="url(#blur1)"/><path d="M0.5,1.6 Q2.1,-0.2 3.7,1.6 L3.7,25.8 L9.6,25.8 L9.6,29.7 L0.5,29.7 Z" fill="url(#gAnt)"/><rect x="1.0" y="26.4" width="8.4" height="2.6" fill="#33332e"/><rect x="9.4" y="20.2" width="26" height="34.9" rx="3.6" fill="#fdfdfc"/><path d="M35.4,27.5 L35.4,51.5 Q35.4,55.1 31.8,55.1 L11,55.1 Z" fill="#f7f7f6"/><path d="M21.4,48.4 L21.4,52.4 L22.8,52.4 Q24.8,52.4 24.8,50.4 Q24.8,48.4 22.8,48.4 Z" fill="none" stroke="#c4c4c8" stroke-width="0.8"/></g>
<g transform="translate(583.1,731.5) scale(0.97)"><rect x="4" y="1.8" width="3" height="24" fill="#8a8787" opacity="0.9" filter="url(#blur1)"/><rect x="11.4" y="18.8" width="27" height="35.4" rx="4.5" fill="#8a8686" opacity="0.75" filter="url(#blur1)"/><path d="M0.5,1.6 Q2.1,-0.2 3.7,1.6 L3.7,25.8 L9.6,25.8 L9.6,29.7 L0.5,29.7 Z" fill="url(#gAnt)"/><rect x="1.0" y="26.4" width="8.4" height="2.6" fill="#33332e"/><rect x="9.4" y="20.2" width="26" height="34.9" rx="3.6" fill="#fdfdfc"/><path d="M35.4,27.5 L35.4,51.5 Q35.4,55.1 31.8,55.1 L11,55.1 Z" fill="#f7f7f6"/><path d="M21.4,48.4 L21.4,52.4 L22.8,52.4 Q24.8,52.4 24.8,50.4 Q24.8,48.4 22.8,48.4 Z" fill="none" stroke="#c4c4c8" stroke-width="0.8"/></g>
<g transform="translate(514.6,792.3) scale(0.97)"><rect x="4" y="1.8" width="3" height="24" fill="#8a8787" opacity="0.9" filter="url(#blur1)"/><rect x="11.4" y="18.8" width="27" height="35.4" rx="4.5" fill="#8a8686" opacity="0.75" filter="url(#blur1)"/><path d="M0.5,1.6 Q2.1,-0.2 3.7,1.6 L3.7,25.8 L9.6,25.8 L9.6,29.7 L0.5,29.7 Z" fill="url(#gAnt)"/><rect x="1.0" y="26.4" width="8.4" height="2.6" fill="#33332e"/><rect x="9.4" y="20.2" width="26" height="34.9" rx="3.6" fill="#fdfdfc"/><path d="M35.4,27.5 L35.4,51.5 Q35.4,55.1 31.8,55.1 L11,55.1 Z" fill="#f7f7f6"/><path d="M21.4,48.4 L21.4,52.4 L22.8,52.4 Q24.8,52.4 24.8,50.4 Q24.8,48.4 22.8,48.4 Z" fill="none" stroke="#c4c4c8" stroke-width="0.8"/></g>
<g transform="translate(583.1,792.3) scale(0.97)"><rect x="4" y="1.8" width="3" height="24" fill="#8a8787" opacity="0.9" filter="url(#blur1)"/><rect x="11.4" y="18.8" width="27" height="35.4" rx="4.5" fill="#8a8686" opacity="0.75" filter="url(#blur1)"/><path d="M0.5,1.6 Q2.1,-0.2 3.7,1.6 L3.7,25.8 L9.6,25.8 L9.6,29.7 L0.5,29.7 Z" fill="url(#gAnt)"/><rect x="1.0" y="26.4" width="8.4" height="2.6" fill="#33332e"/><rect x="9.4" y="20.2" width="26" height="34.9" rx="3.6" fill="#fdfdfc"/><path d="M35.4,27.5 L35.4,51.5 Q35.4,55.1 31.8,55.1 L11,55.1 Z" fill="#f7f7f6"/><path d="M21.4,48.4 L21.4,52.4 L22.8,52.4 Q24.8,52.4 24.8,50.4 Q24.8,48.4 22.8,48.4 Z" fill="none" stroke="#c4c4c8" stroke-width="0.8"/></g>
<g transform="translate(1213.5,370) scale(1.0)"><path d="M47.5,72 L77,72 Q77.5,90 83.5,98 L41.5,98 Q47,90 47.5,72 Z" fill="#2f6fc0"/><path d="M49.5,72 L75,72 Q75.5,90 81,98 L44,98 Q49,90 49.5,72 Z" fill="#1e9fdc"/><rect x="32" y="97.3" width="59.5" height="5.7" rx="2.5" fill="#1e9fdc"/><rect x="0" y="0" width="125" height="73" rx="6" fill="#1e9fdc"/><rect x="7.4" y="6.8" width="108.2" height="59.2" rx="1.6" fill="#fff"/><path d="M15.5,59.5 L42,34.2 L63.3,45.5 L91,19 L107.7,37" fill="none" stroke="#1e9fdc" stroke-width="2.6"/><circle cx="42" cy="34.2" r="3.9" fill="#fff" stroke="#1e9fdc" stroke-width="1.8"/><circle cx="63.3" cy="45.5" r="3.9" fill="#fff" stroke="#1e9fdc" stroke-width="1.8"/><circle cx="91" cy="19" r="3.9" fill="#fff" stroke="#1e9fdc" stroke-width="1.8"/><circle cx="107.7" cy="37" r="3.9" fill="#fff" stroke="#1e9fdc" stroke-width="1.8"/><circle cx="108.5" cy="99.7" r="3.5" fill="none" stroke="#1e9fdc" stroke-width="2.3"/><circle cx="109.5" cy="100.3" r="3.2" fill="#fff" stroke="#111" stroke-width="2.3"/></g>
<g transform="translate(1261.3,752) scale(0.626)"><path d="M47.5,72 L77,72 Q77.5,90 83.5,98 L41.5,98 Q47,90 47.5,72 Z" fill="#2f6fc0"/><path d="M49.5,72 L75,72 Q75.5,90 81,98 L44,98 Q49,90 49.5,72 Z" fill="#1e9fdc"/><rect x="32" y="97.3" width="59.5" height="5.7" rx="2.5" fill="#1e9fdc"/><rect x="0" y="0" width="125" height="73" rx="6" fill="#1e9fdc"/><rect x="7.4" y="6.8" width="108.2" height="59.2" rx="1.6" fill="#fff"/><path d="M15.5,59.5 L42,34.2 L63.3,45.5 L91,19 L107.7,37" fill="none" stroke="#1e9fdc" stroke-width="2.6"/><circle cx="42" cy="34.2" r="3.9" fill="#fff" stroke="#1e9fdc" stroke-width="1.8"/><circle cx="63.3" cy="45.5" r="3.9" fill="#fff" stroke="#1e9fdc" stroke-width="1.8"/><circle cx="91" cy="19" r="3.9" fill="#fff" stroke="#1e9fdc" stroke-width="1.8"/><circle cx="107.7" cy="37" r="3.9" fill="#fff" stroke="#1e9fdc" stroke-width="1.8"/><circle cx="108.5" cy="99.7" r="3.5" fill="none" stroke="#1e9fdc" stroke-width="2.3"/><circle cx="109.5" cy="100.3" r="3.2" fill="#fff" stroke="#111" stroke-width="2.3"/></g>
<g><rect x="351" y="738.5" width="43" height="41" rx="14" fill="#dcdcdc" filter="url(#blur1)"/><rect x="351.3" y="737.2" width="42.6" height="40.6" rx="13.5" fill="#f7f7f7"/><rect x="359.8" y="744.3" width="26.2" height="25.5" rx="6.5" fill="#fdfdfd" stroke="#f1f1f1" stroke-width="0.5"/><rect x="363.4" y="755.7" width="20.5" height="2.4" fill="#5a5a5a"/><rect x="381" y="755.7" width="2.9" height="2.4" fill="#222"/><rect x="368" y="750.3" width="11" height="0.6" fill="#aaa"/><rect x="364" y="759.6" width="19" height="0.7" fill="#c4c4c4"/><circle cx="373" cy="766" r="1.1" fill="#f4b942"/></g>
<g><rect x="353.3" y="826" width="38" height="39.8" fill="#fff"/><polygon points="359.2,831.8 366.2,827.5 378,829 371.4,834.2 367.6,837.9 356.8,836" fill="#1e1e1e"/><polygon points="361.5,832.6 366.8,829.6 372.5,830.6 367.5,835.2 360,834" fill="#cf2a20"/><path d="M363,831.6 l5.5,1.2 M361.5,833 l5.5,1.2" stroke="#1e1e1e" stroke-width="0.8"/><polygon points="355.8,833.7 368.1,836 367.6,838.9 356.3,837.5" fill="#e12a1f"/><polygon points="354.9,839.3 366.7,839.8 365.8,844.5 355.8,843.6" fill="#1c1c1c"/><path d="M356.3,844 C356,853 358,860.5 367.6,865.3 L378,863.4 L385.6,855.4 L378,854 C376,858 373,861 371.4,861.5 C367,858 365.5,852 365.3,844.3 Z" fill="#de2b20"/><path d="M356.3,844 C356,853 358,860.5 367.6,865.3 L369,863.5 C361,859 358.3,853 358.3,844.2 Z" fill="#222"/><polygon points="367.6,865.3 378,863.4 385.6,855.4 378,853.5 375.2,859.2 371,861.8 369.5,862.8" fill="#1d1d1d"/><path d="M359.6,846.6 l4.6,-0.5 M359.8,849.8 l4.8,-0.6 M360.6,853 l4.8,-0.9 M361.8,856 l4.6,-1.3 M363.6,858.8 l4.2,-1.8 M365.8,861.2 l3.6,-2.1" stroke="#f4f4f4" stroke-width="1.1"/><ellipse cx="379.5" cy="841.7" rx="10.9" ry="12.8" fill="#d4d4d4"/><ellipse cx="380.4" cy="841.7" rx="10.1" ry="12.2" fill="#171717"/><rect x="378.4" y="839.3" width="1.5" height="5.4" fill="#e8e8e8"/><rect x="381.4" y="839.3" width="1.5" height="5.4" fill="#e0e0e0"/><rect x="384.6" y="839" width="1.9" height="6.2" fill="#2a8d8d"/><circle cx="386.2" cy="838.6" r="0.8" fill="#5ab82e"/><rect x="378" y="837.8" width="1.6" height="0.8" fill="#4a7fe0"/></g>
<g><polygon points="989.5,726.3 1100.7,726.3 1143,742.3 1004,744.5" fill="url(#gSrvTop)"/><polygon points="988.3,727.3 989.5,726.3 1004,744.5 996.5,748.5 989.5,737" fill="#242526"/><polygon points="996.5,746.5 1004,744.3 1143,742.3 1143,768.3 996.5,772" fill="#141414"/><polygon points="996.5,746.5 1003.3,744.5 1003.3,771.8 996.5,772" fill="#222324"/><polygon points="1144,742 1152,742.5 1152,767.5 1144,768.3" fill="#2a2c2e"/><rect x="1146.3" y="750" width="4.2" height="9" fill="#777"/><rect x="1147" y="760.5" width="3" height="4" fill="#2b8fd0"/><rect x="1049" y="746.5" width="10.5" height="4.6" fill="#3d6fd8"/><polygon points="1007,738.6 1033,738.2 1036,740.6 1009,741" fill="#222"/><polygon points="1044,740 1053,739.8 1056,742.3 1046,742.4" fill="#1a1a1a"/><rect x="1065.0" y="748.2" width="24" height="8.6" fill="#2a2a2a"/><rect x="1066.2" y="749.6" width="1.4" height="5.6" fill="#4a8a3a"/><rect x="1072.0" y="749.0" width="10" height="7" fill="#b9b9b4"/><rect x="1073.5" y="750.2" width="2" height="4.6" fill="#333"/><rect x="1076.8" y="750.2" width="2" height="4.6" fill="#333"/><rect x="1082.5" y="749.4" width="6" height="6.4" fill="#d5d5d2"/><rect x="1084.5" y="752.2" width="4" height="3" fill="#444"/><rect x="1091.2" y="748.0" width="24" height="8.6" fill="#2a2a2a"/><rect x="1092.4" y="749.4" width="1.4" height="5.6" fill="#4a8a3a"/><rect x="1098.2" y="748.8" width="10" height="7" fill="#b9b9b4"/><rect x="1099.7" y="750.0" width="2" height="4.6" fill="#333"/><rect x="1103.0" y="750.0" width="2" height="4.6" fill="#333"/><rect x="1108.7" y="749.2" width="6" height="6.4" fill="#d5d5d2"/><rect x="1110.7" y="752.0" width="4" height="3" fill="#444"/><rect x="1117.4" y="747.7" width="24" height="8.6" fill="#2a2a2a"/><rect x="1118.6" y="749.1" width="1.4" height="5.6" fill="#4a8a3a"/><rect x="1124.4" y="748.5" width="10" height="7" fill="#b9b9b4"/><rect x="1125.9" y="749.7" width="2" height="4.6" fill="#333"/><rect x="1129.2" y="749.7" width="2" height="4.6" fill="#333"/><rect x="1134.9" y="748.9" width="6" height="6.4" fill="#d5d5d2"/><rect x="1136.9" y="751.7" width="4" height="3" fill="#444"/><rect x="1065.0" y="759.0" width="24" height="8.6" fill="#2a2a2a"/><rect x="1066.2" y="760.4" width="1.4" height="5.6" fill="#4a8a3a"/><rect x="1072.0" y="759.8" width="10" height="7" fill="#b9b9b4"/><rect x="1073.5" y="761.0" width="2" height="4.6" fill="#333"/><rect x="1076.8" y="761.0" width="2" height="4.6" fill="#333"/><rect x="1082.5" y="760.2" width="6" height="6.4" fill="#d5d5d2"/><rect x="1084.5" y="763.0" width="4" height="3" fill="#444"/><rect x="1091.2" y="758.8" width="24" height="8.6" fill="#2a2a2a"/><rect x="1092.4" y="760.1" width="1.4" height="5.6" fill="#4a8a3a"/><rect x="1098.2" y="759.5" width="10" height="7" fill="#b9b9b4"/><rect x="1099.7" y="760.8" width="2" height="4.6" fill="#333"/><rect x="1103.0" y="760.8" width="2" height="4.6" fill="#333"/><rect x="1108.7" y="760.0" width="6" height="6.4" fill="#d5d5d2"/><rect x="1110.7" y="762.8" width="4" height="3" fill="#444"/><rect x="1117.4" y="758.5" width="24" height="8.6" fill="#2a2a2a"/><rect x="1118.6" y="759.9" width="1.4" height="5.6" fill="#4a8a3a"/><rect x="1124.4" y="759.3" width="10" height="7" fill="#b9b9b4"/><rect x="1125.9" y="760.5" width="2" height="4.6" fill="#333"/><rect x="1129.2" y="760.5" width="2" height="4.6" fill="#333"/><rect x="1134.9" y="759.7" width="6" height="6.4" fill="#d5d5d2"/><rect x="1136.9" y="762.5" width="4" height="3" fill="#444"/><rect x="1005.0" y="761.0" width="25.5" height="8.6" fill="#2a2a2a"/><rect x="1006.2" y="762.4" width="1.4" height="5.6" fill="#4a8a3a"/><rect x="1012.0" y="761.8" width="11" height="7" fill="#b9b9b4"/><rect x="1013.5" y="763.0" width="2" height="4.6" fill="#333"/><rect x="1017.3" y="763.0" width="2" height="4.6" fill="#333"/><rect x="1024.0" y="762.2" width="6" height="6.4" fill="#d5d5d2"/><rect x="1026.0" y="765.0" width="4" height="3" fill="#444"/><rect x="1032.5" y="760.7" width="25.5" height="8.6" fill="#2a2a2a"/><rect x="1033.7" y="762.1" width="1.4" height="5.6" fill="#4a8a3a"/><rect x="1039.5" y="761.5" width="11" height="7" fill="#b9b9b4"/><rect x="1041.0" y="762.7" width="2" height="4.6" fill="#333"/><rect x="1044.8" y="762.7" width="2" height="4.6" fill="#333"/><rect x="1051.5" y="761.9" width="6" height="6.4" fill="#d5d5d2"/><rect x="1053.5" y="764.7" width="4" height="3" fill="#444"/><rect x="1005" y="751.5" width="42" height="6.5" fill="#0c0c0c"/></g>
</svg>
</body></html>
